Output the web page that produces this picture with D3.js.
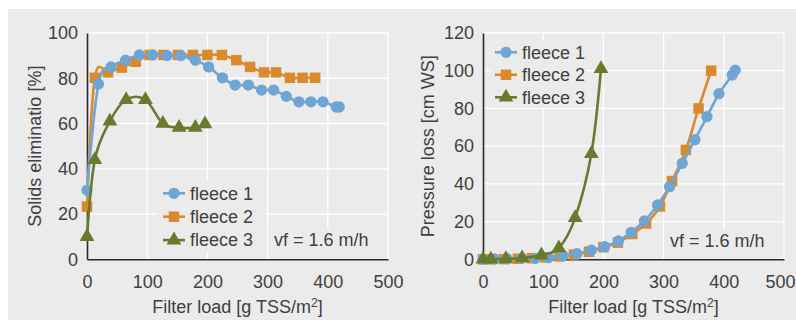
<!DOCTYPE html>
<html>
<head>
<meta charset="utf-8">
<script src="https://cdn.jsdelivr.net/npm/d3@7"></script>
<style>
  html, body { margin: 0; padding: 0; background: #fff; }
  svg { display: block; }
  text { font-family: "Liberation Sans", Arial, sans-serif; fill: #404040; }
</style>
</head>
<body>
<svg id="chart" width="796" height="320"></svg>
<script>
// ---------------- data ----------------
const loadTicks = [0, 100, 200, 300, 400, 500];
const solidsTicks = [0, 20, 40, 60, 80, 100];
const pressureTicks = [0, 20, 40, 60, 80, 100, 120];
const seriesNames = ["fleece 1", "fleece 2", "fleece 3"];

const f1Load = [0, 19, 40, 64, 87, 109, 133, 156, 180, 202, 225, 246, 268, 290, 310, 331, 352, 372, 392, 414, 419];
const f1Solids = [30.5, 77.5, 85, 88, 90.3, 90.3, 90, 90, 88, 85, 80.2, 77, 77, 74.8, 74.8, 72, 69.6, 69.6, 69.6, 67.3, 67.3];
const f1Pressure = [0, 0.2, 0.3, 0.5, 0.5, 0.9, 1.9, 3.0, 4.8, 6.7, 9.7, 14.3, 20.3, 28.8, 38.5, 50.9, 63.4, 75.6, 87.8, 97.7, 100.3];

const f2Load = [0, 13, 35, 58, 81, 104, 127, 151, 176, 200, 224, 248, 271, 294, 314, 337, 358, 379];
const f2Solids = [23.3, 80.2, 82.6, 84.7, 87.3, 90.3, 90.3, 90.3, 90.3, 90.3, 90.3, 88, 85, 82.6, 82.6, 80.2, 80.2, 80.2];
const f2Pressure = [0, 0, 0.1, 0.3, 0.6, 1, 1.5, 2.5, 4, 6.4, 8.8, 13.4, 19, 28, 41.5, 58, 80, 100];

const f3Load = [0, 13, 38, 65, 97, 126, 153, 180, 196];
const f3Solids = [10, 44, 61, 70.5, 70.5, 60, 58.2, 58.2, 59.8];
const f3Pressure = [0, 0, 0.2, 0.7, 2.2, 6, 22, 56, 101];

const colors = ["#6fa5d5", "#db8a2b", "#687a2c"];
const markers = ["circle", "square", "triangle"];

// --------------- drawing ---------------
const svg = d3.select("#chart");
const BG = "#ebebeb";
const FS = "18px";
svg.append("rect").attr("x", 8).attr("y", 9).attr("width", 788).attr("height", 311).attr("fill", BG);

const symbolFor = { circle: d3.symbolCircle, square: d3.symbolSquare, triangle: d3.symbolTriangle };
const symbolSize = { circle: 100, square: 110, triangle: 95 };

function drawMarker(g, type, x, y, color) {
  g.append("path")
    .attr("d", d3.symbol(symbolFor[type], symbolSize[type])())
    .attr("transform", `translate(${x},${y})`)
    .attr("fill", color);
}

function panel(opts) {
  const { left, right, top, bottom, yMax, yTicks, yTitle, series, legend, vf } = opts;
  const x = d3.scaleLinear().domain([0, 500]).range([left, right]);
  const y = d3.scaleLinear().domain([0, yMax]).range([bottom, top]);
  const g = svg.append("g");

  // gridlines
  g.append("g").selectAll("line.v").data(loadTicks.slice(1)).join("line")
    .attr("x1", d => x(d)).attr("x2", d => x(d)).attr("y1", top).attr("y2", bottom)
    .attr("stroke", "#fff").attr("stroke-width", 1.3);
  g.append("g").selectAll("line.h").data(yTicks.slice(1)).join("line")
    .attr("x1", left).attr("x2", right).attr("y1", d => y(d)).attr("y2", d => y(d))
    .attr("stroke", "#fff").attr("stroke-width", 1.3);

  // boxes behind legend / annotation
  g.append("rect").attr("x", legend.box[0]).attr("y", legend.box[1])
    .attr("width", legend.box[2]).attr("height", legend.box[3]).attr("fill", BG);
  g.append("rect").attr("x", vf.box[0]).attr("y", vf.box[1])
    .attr("width", vf.box[2]).attr("height", vf.box[3]).attr("fill", BG);

  // axes
  const xAxis = d3.axisBottom(x).tickValues(loadTicks).tickSize(0).tickPadding(0);
  const xg = g.append("g").attr("transform", `translate(0,${bottom})`).call(xAxis);
  xg.select(".domain").attr("stroke", "#2a2a2a").attr("stroke-width", 1.6);
  xg.selectAll("text").attr("y", 29).attr("dy", null).style("font-size", FS).attr("fill", "#404040")
    .attr("dx", d => (d === 500 && opts.shiftLast) ? -4 : 0);

  const yAxis = d3.axisLeft(y).tickValues(yTicks).tickSize(0).tickPadding(9);
  const yg = g.append("g").attr("transform", `translate(${left},0)`).call(yAxis);
  yg.select(".domain").attr("stroke", "#2a2a2a").attr("stroke-width", 1.6);
  yg.selectAll("text").style("font-size", FS).attr("fill", "#404040");
  xg.attr("font-family", null); yg.attr("font-family", null);

  // titles
  g.append("text").attr("x", (left + right) / 2).attr("y", 313).attr("text-anchor", "middle")
    .style("font-size", FS)
    .html('Filter load [g TSS/m<tspan dy="-6" style="font-size:12px">2</tspan><tspan dy="6">]</tspan>');
  g.append("text").attr("transform", `translate(${opts.yTitleX},${(top + bottom) / 2}) rotate(-90)`)
    .attr("text-anchor", "middle").attr("dy", "0.35em").style("font-size", FS).text(yTitle);

  // series
  const line = d3.line().x(d => x(d[0])).y(d => y(d[1])).curve(d3.curveCardinal.tension(0));
  const order = [1, 0, 2];
  order.forEach(i => {
    const s = series[i];
    const pts = s.load.map((v, k) => [v, s.val[k]]);
    g.append("path").datum(pts).attr("d", line).attr("fill", "none")
      .attr("stroke", colors[i]).attr("stroke-width", 2.6).attr("stroke-linejoin", "round");
    const mg = g.append("g");
    pts.forEach(p => drawMarker(mg, markers[i], x(p[0]), y(p[1]), colors[i]));
  });

  // legend
  seriesNames.forEach((name, i) => {
    const ly = legend.y0 + i * legend.dy;
    g.append("line").attr("x1", legend.x).attr("x2", legend.x + 22).attr("y1", ly).attr("y2", ly)
      .attr("stroke", colors[i]).attr("stroke-width", 2.6);
    drawMarker(g, markers[i], legend.x + 11, ly, colors[i]);
    g.append("text").attr("x", legend.x + 27).attr("y", ly).attr("dy", "0.35em")
      .style("font-size", FS).text(name);
  });

  // annotation
  g.append("text").attr("x", vf.x).attr("y", vf.y).attr("dy", "0.35em")
    .style("font-size", FS).text("vf = 1.6 m/h");
}

panel({
  left: 87, right: 388, top: 33, bottom: 259.3, yMax: 100, yTicks: solidsTicks,
  yTitle: "Solids eliminatio [%]", yTitleX: 35, shiftLast: false,
  series: [
    { load: f1Load, val: f1Solids },
    { load: f2Load, val: f2Solids },
    { load: f3Load, val: f3Solids }
  ],
  legend: { x: 163, y0: 193.3, dy: 23.4, box: [158, 181, 108, 71] },
  vf: { x: 274, y: 240, box: [268, 229, 114, 29] }
});

panel({
  left: 483, right: 784, top: 33, bottom: 259.3, yMax: 120, yTicks: pressureTicks,
  yTitle: "Pressure loss [cm WS]", yTitleX: 428, shiftLast: true,
  series: [
    { load: f1Load, val: f1Pressure },
    { load: f2Load, val: f2Pressure },
    { load: f3Load, val: f3Pressure }
  ],
  legend: { x: 495, y0: 52.3, dy: 22.5, box: [490, 40, 95, 68] },
  vf: { x: 670, y: 241, box: [664, 229, 115, 29] }
});
</script>
</body>
</html>
